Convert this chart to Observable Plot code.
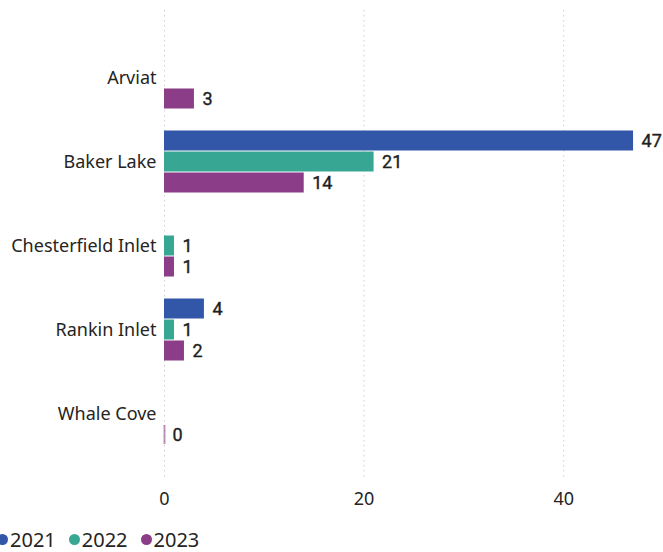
<!DOCTYPE html>
<html>
<head>
<meta charset="utf-8">
<script src="https://cdn.jsdelivr.net/npm/d3@7"></script>
<script src="https://cdn.jsdelivr.net/npm/@observablehq/plot@0.6"></script>
<style>
  html, body { margin: 0; padding: 0; background: #fff; }
  #chart { width: 663px; height: 552px; position: relative; overflow: hidden; }
  .legend { display: flex; align-items: center; height: 38px; margin-top: 6px; font-family: "Noto Sans", "Open Sans", sans-serif; font-size: 20px; color: #252423; margin-left: -3px; }
  .legend .item { display: flex; align-items: center; margin-right: 13px; }
  .legend .dot { width: 11px; height: 11px; border-radius: 50%; margin-right: 2px; display: inline-block; }
</style>
</head>
<body>
<div id="chart"></div>
<script>
const locations = ["Arviat", "Baker Lake", "Chesterfield Inlet", "Rankin Inlet", "Whale Cove"];
const years = ["2021", "2022", "2023"];
const v2021 = [null, 47, null, 4, null];
const v2022 = [null, 21, 1, 1, null];
const v2023 = [3, 14, 1, 2, 0];
const xTicks = [0, 20, 40];
const colors = ["#3257A8", "#37A794", "#8B3D88"];

const series = [v2021, v2022, v2023];
const keyOf = (loc, yr) => loc + "|" + yr;
const data = [];
locations.forEach((loc, i) => {
  years.forEach((yr, j) => {
    const v = series[j][i];
    if (v !== null && v !== undefined) data.push({location: loc, year: yr, key: keyOf(loc, yr), value: v});
  });
});
const yDomain = [];
locations.forEach((loc, i) => {
  if (i > 0) yDomain.push("gap|" + i);
  years.forEach(yr => yDomain.push(keyOf(loc, yr)));
});

const plot = Plot.plot({
  width: 663,
  height: 514,
  marginLeft: 164,
  marginRight: 0,
  marginTop: 10,
  marginBottom: 34,
  style: {fontFamily: "'Noto Sans', 'Open Sans', sans-serif", fontSize: "18px", color: "#252423", background: "#fff"},
  x: {domain: [0, 50], ticks: xTicks, tickSize: 0, tickPadding: 12, label: null},
  y: {
    type: "band",
    domain: yDomain,
    paddingInner: 0,
    paddingOuter: 1.5,
    tickSize: 0,
    tickPadding: 8,
    label: null,
    tickFormat: k => k.endsWith("|2022") ? k.split("|")[0] : ""
  },
  color: {domain: years, range: colors},
  marks: [
    Plot.ruleX(xTicks, {stroke: "#cfcfcf", strokeDasharray: "1.5,3.5", strokeWidth: 1}),
    Plot.barX(data.filter(d => d.value > 0), {x: "value", y: "key", fill: "year", insetTop: 0.5, insetBottom: 0.5}),
    Plot.tickX(data.filter(d => d.value === 0), {x: "value", y: "key", stroke: "year", strokeWidth: 2, strokeOpacity: 0.55, insetTop: 1, insetBottom: 1}),
    Plot.text(data, {x: "value", y: "key", text: d => String(d.value), dx: 8, textAnchor: "start", fontSize: 18, fontWeight: 400, fontFamily: "Roboto, sans-serif", fill: "#1f1f1f", stroke: "#1f1f1f", strokeWidth: 0.4})
  ]
});

const chart = document.getElementById("chart");
chart.appendChild(plot);

const legend = document.createElement("div");
legend.className = "legend";
years.forEach((yr, j) => {
  const item = document.createElement("span");
  item.className = "item";
  const dot = document.createElement("span");
  dot.className = "dot";
  dot.style.background = colors[j];
  const label = document.createElement("span");
  label.textContent = yr;
  item.appendChild(dot);
  item.appendChild(label);
  legend.appendChild(item);
});
chart.appendChild(legend);
</script>
</body>
</html>
